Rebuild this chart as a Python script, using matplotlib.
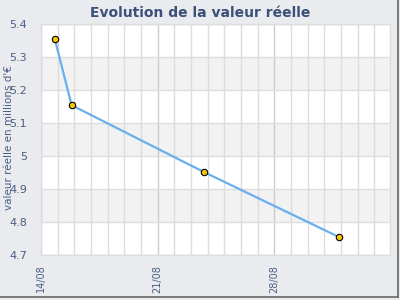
import numpy as np
import pandas as pd
import matplotlib
matplotlib.use("Agg")
import matplotlib.pyplot as plt
from matplotlib.lines import Line2D

# data
dates = ["2023-08-14 20:00", "2023-08-15 20:00", "2023-08-23 18:00", "2023-08-31 21:30"]
values = [5.354, 5.154, 4.952, 4.754]
y_ticks = [4.7, 4.8, 4.9, 5.0, 5.1, 5.2, 5.3, 5.4]
y_labels = ["4.7", "4.8", "4.9", "5", "5.1", "5.2", "5.3", "5.4"]
x_ticks = ["2023-08-14", "2023-08-21", "2023-08-28"]
x_labels = ["14/08", "21/08", "28/08"]

bg = "#e9ebee"
text_col = "#4a5f85"
title_col = "#3b5078"

x = pd.to_datetime(dates)
fig = plt.figure(figsize=(4, 3), dpi=100, facecolor=bg)
ax = fig.add_axes([0.1025, 0.15, 0.8725, 0.77])
ax.set_facecolor("white")

x0 = pd.Timestamp("2023-08-14")
x1 = pd.Timestamp("2023-09-03 22:30")
ax.set_xlim(x0, x1)
ax.set_ylim(4.7, 5.4)

# alternating bands
for i in range(len(y_ticks) - 1):
    if i % 2 == 1:
        ax.axhspan(y_ticks[i], y_ticks[i + 1], color="#f2f2f2", zorder=0, lw=0)

# grid
for d in pd.date_range(x0, x1, freq="D"):
    c = "#cccccc" if d.dayofweek == 0 else "#dddddd"
    ax.axvline(d, color=c, lw=1, zorder=1)
for yv in y_ticks:
    ax.axhline(yv, color="#dddddd", lw=1, zorder=1)

ax.plot(x, values, color="#6aaef0", lw=1.6, zorder=3)
ax.plot(x, values, "o", ms=4.6, mfc="#f7c600", mec="black", mew=0.8, zorder=4)

for s in ax.spines.values():
    s.set_color("#dddddd")
    s.set_linewidth(1)

ax.set_yticks(y_ticks)
ax.set_yticklabels(y_labels)
ax.set_xticks(pd.to_datetime(x_ticks))
ax.set_xticklabels(x_labels, rotation=90)
ax.tick_params(axis="y", length=0, pad=10, labelsize=8, labelcolor=text_col)
ax.tick_params(axis="x", length=0, pad=7, labelsize=7, labelcolor=text_col)

fig.text(0.0225, 0.543, "valeur réelle en millions d'€", rotation=90,
         ha="center", va="center", fontsize=7.5, color=text_col)
fig.text(0.5, 0.958, "Evolution de la valeur réelle", ha="center", va="center",
         fontsize=10, fontweight="bold", color=title_col)

# shadow frame right/bottom
fig.add_artist(Line2D([0.994, 0.994], [0.01, 1.0], transform=fig.transFigure, color="#666666", lw=1.2))
fig.add_artist(Line2D([0.0, 0.994], [0.01, 0.01], transform=fig.transFigure, color="#666666", lw=1.2))

fig.savefig("out.png", dpi=100, facecolor=bg)
